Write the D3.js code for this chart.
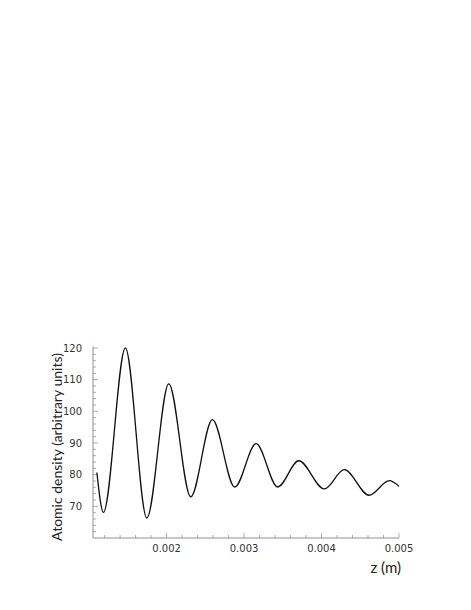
<!DOCTYPE html>
<html>
<head>
<meta charset="utf-8">
<script src="https://cdn.jsdelivr.net/npm/d3@7"></script>
<style>
  body { margin: 0; background: #fff; }
  svg { display: block; }
  text { font-family: Lato, "Open Sans", sans-serif; fill: #222; }
  .tick-label { font-family: "DejaVu Sans", sans-serif; font-size: 10px; fill: #333; }
</style>
</head>
<body>
<svg id="chart"></svg>
<script>
// density extrema (z in m)
const zValues = [0.0011, 0.001185, 0.001468, 0.001745, 0.002028, 0.002312, 0.002591, 0.00288,
  0.003155, 0.003434, 0.003706, 0.004036, 0.004294, 0.004613, 0.004875, 0.005];
const density = [80.7, 68.1, 120, 66.3, 108.7, 73, 97.4, 76.1,
  89.8, 76.1, 84.4, 75.5, 81.6, 73.5, 78.1, 76.3];
const xTicks = [0.002, 0.003, 0.004, 0.005];
const yTicks = [70, 80, 90, 100, 110, 120];

const width = 471, height = 610;
const svg = d3.select('#chart').attr('width', width).attr('height', height);

const x = d3.scaleLinear().domain([0.00105, 0.005]).range([93, 399]);
const y = d3.scaleLinear().domain([60, 120]).range([538, 348]);

const axisColor = '#777';

// y axis
svg.append('line')
  .attr('x1', x(0.00105)).attr('x2', x(0.00105))
  .attr('y1', y(60)).attr('y2', y(120.5))
  .attr('stroke', axisColor).attr('stroke-width', 0.8);
// x axis
svg.append('line')
  .attr('x1', x(0.00105)).attr('x2', x(0.005))
  .attr('y1', y(60)).attr('y2', y(60))
  .attr('stroke', axisColor).attr('stroke-width', 0.8);

// y ticks, pointing inward
const yMinor = d3.range(62, 121, 2);
svg.selectAll('.ytick').data(yMinor).enter().append('line')
  .attr('x1', x(0.00105))
  .attr('x2', d => x(0.00105) + (d % 10 === 0 ? 5 : 3))
  .attr('y1', d => y(d)).attr('y2', d => y(d))
  .attr('stroke', axisColor).attr('stroke-width', 0.6);

svg.selectAll('.ylab').data(yTicks).enter().append('text')
  .attr('class', 'tick-label')
  .attr('x', 82).attr('y', d => y(d)).attr('dy', '0.35em')
  .attr('text-anchor', 'end')
  .text(d => d);

// x ticks
const xMinor = d3.range(12, 51, 2).map(d => d / 10000);
svg.selectAll('.xtick').data(xMinor).enter().append('line')
  .attr('x1', d => x(d)).attr('x2', d => x(d))
  .attr('y1', y(60))
  .attr('y2', d => y(60) - (Math.abs(d * 1000 - Math.round(d * 1000)) < 1e-9 ? 5 : 3))
  .attr('stroke', axisColor).attr('stroke-width', 0.6);

svg.selectAll('.xlab').data(xTicks).enter().append('text')
  .attr('class', 'tick-label')
  .attr('x', d => x(d)).attr('y', 552)
  .attr('text-anchor', 'middle')
  .text(d => d3.format('.3f')(d));

// axis titles
svg.append('text')
  .attr('x', 401).attr('y', 573)
  .attr('text-anchor', 'end').style('font-size', '15px')
  .text('z (m)');

svg.append('text')
  .attr('transform', 'translate(62, 447) rotate(-90)')
  .attr('text-anchor', 'middle').style('font-size', '14px')
  .text('Atomic density (arbitrary units)');

// curve
const pts = zValues.map((z, i) => [z, density[i]]);
const line = d3.line()
  .x(d => x(d[0]))
  .y(d => y(d[1]))
  .curve(d3.curveMonotoneX);

svg.append('path')
  .datum(pts)
  .attr('d', line)
  .attr('fill', 'none')
  .attr('stroke', '#111')
  .attr('stroke-width', 1.3);
</script>
</body>
</html>
